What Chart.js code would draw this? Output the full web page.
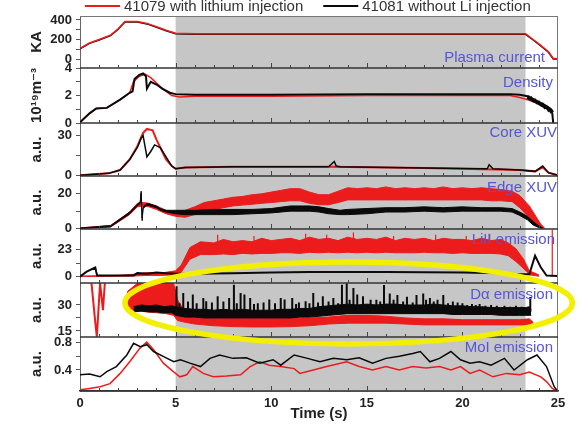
<!DOCTYPE html>
<html>
<head>
<meta charset="utf-8">
<script src="https://cdn.jsdelivr.net/npm/chart.js@4.4.1/dist/chart.umd.min.js"></script>
<style>
  html, body { margin: 0; padding: 0; background: #fff; }
  canvas { display: block; }
</style>
</head>
<body>
<canvas id="shotChart" width="579" height="425"></canvas>
<script>
// ===== values (time in s) =====
const shotNames = ['41079 with lithium injection', '41081 without Li injection'];
const timeTicks = [0, 5, 10, 15, 20, 25];
const shadeWindow = [5, 23.3];

// plasma current (KA)
const ipTime  = [0, 0.5, 1.0, 1.6, 2.0, 2.35, 3.0, 3.5, 4.0, 4.5, 5.0, 6, 10, 15, 20, 23.3, 23.7, 24.1, 24.5, 24.75, 25];
const ip41079 = [110, 165, 200, 245, 310, 385, 385, 365, 330, 295, 265, 260, 260, 260, 260, 258, 200, 140, 75, 5, 5];
const ip41081 = [105, 160, 195, 240, 305, 380, 380, 360, 325, 290, 260, 255, 255, 255, 255, 253, 195, 135, 70, 0, 0];

// density (1e19 m^-3)
const neTime41079 = [0, 0.5, 0.85, 1.4, 2.1, 2.6, 2.8, 3.1, 3.4, 3.7, 4.0, 4.4, 4.8, 5.2, 6, 10, 15, 20, 22.5, 23.0, 23.5, 24.0, 24.4, 24.7];
const ne41079     = [0.05, 0.7, 1.05, 1.1, 1.7, 2.2, 3.0, 3.4, 3.55, 3.3, 2.9, 2.4, 2.0, 1.9, 1.95, 1.95, 2.0, 2.0, 2.0, 1.85, 1.65, 1.4, 1.2, 0.9];
const neTime41081 = [0, 0.5, 0.85, 1.4, 2.1, 2.6, 2.75, 2.85, 3.1, 3.3, 3.45, 3.5, 3.7, 4.0, 4.3, 4.7, 5.0, 6, 10, 15, 20, 22.5, 23.0, 23.4, 23.5, 23.6, 23.7, 23.8, 23.9, 24.0, 24.1, 24.2, 24.3, 24.4, 24.5, 24.6, 24.7, 24.75];
const ne41081     = [0.05, 0.7, 1.05, 1.1, 1.7, 2.2, 2.3, 3.2, 3.5, 3.6, 3.4, 2.5, 3.0, 2.8, 2.5, 2.2, 2.1, 2.05, 2.05, 2.1, 2.1, 2.1, 2.05, 1.95, 1.75, 1.85, 1.6, 1.7, 1.45, 1.55, 1.3, 1.4, 1.1, 1.2, 0.9, 1.0, 0.7, 0];
const neTailTime41081 = [23.4, 23.6, 23.8, 24.0, 24.2, 24.4, 24.6, 24.7];
const neTail41081     = [1.9, 1.75, 1.6, 1.45, 1.3, 1.15, 0.95, 0.75];

// core XUV (a.u.)
const coreTime41079 = [0, 1.5, 2.1, 2.6, 3.0, 3.3, 3.5, 3.8, 4.0, 4.3, 4.5, 4.8, 5.0, 5.5, 8, 13, 18, 23, 23.8, 24.2, 24.5, 25];
const core41079     = [0, 1.5, 4, 12, 22, 32, 35, 34, 27, 18, 12, 7, 5, 6, 6.5, 6.5, 5.5, 4, 3, 6, 2, 0];
const coreTime41081 = [0, 1.5, 2.1, 2.6, 3.0, 3.2, 3.3, 3.5, 3.7, 3.9, 4.2, 4.5, 4.8, 5.0, 5.5, 8, 13, 13.3, 13.4, 13.6, 18, 21.3, 21.4, 21.6, 23, 23.8, 24.2, 24.5, 25];
const core41081     = [0, 1.5, 4, 12, 21, 28, 30, 14, 18, 23, 21, 14, 7, 5, 6, 6.5, 6.5, 10.5, 7, 6.5, 5.5, 5, 8, 5, 4, 3, 7, 2, 0];

// edge XUV (a.u.), noisy traces given as upper / lower envelope
const edgeTime41079 = [0, 1.6, 2.6, 3.0, 3.3, 3.6, 4.0, 4.5, 5.0, 5.5, 6.0, 6.5, 7.0, 7.5, 8.0, 8.5, 9.0, 9.5, 10, 10.5, 11, 11.5, 12, 12.5, 13, 13.5, 14, 14.5, 15, 15.5, 16, 16.5, 17, 17.5, 18, 18.5, 19, 19.5, 20, 20.5, 21, 21.5, 22, 22.6, 23.0, 23.5, 24.1, 24.3];
const edgeHi41079   = [0.3, 1.8, 9.5, 14.5, 15, 14.5, 13, 10.5, 9.5, 10.5, 12.5, 15, 16, 17, 18, 18.5, 19.5, 20, 21, 22, 23, 23, 21, 19.5, 19.5, 21.5, 23.5, 23, 23.5, 23, 24, 23, 23.5, 23, 23.5, 23, 24, 23, 23.5, 23, 23.5, 23, 22.5, 21.5, 19, 13, 2.5, 0.3];
const edgeLo41079   = [0, 0.8, 8, 12.5, 13, 12.5, 11, 8.5, 7, 6.5, 8, 9.5, 11, 12, 13, 13.5, 14, 14.5, 15, 15.5, 16, 16, 14.5, 13.7, 13.7, 15, 16.5, 16.5, 16.5, 16.5, 16.5, 16.5, 16.5, 16.5, 16.5, 16.5, 16.5, 16.5, 16.5, 16.5, 16.5, 16, 16, 15.5, 12, 6, 0.5, 0];
const edgeTime41081 = [0, 1.6, 2.6, 3.0, 3.15, 3.2, 3.25, 3.3, 3.5, 4.0, 4.2, 4.5, 5.0, 5.5, 6, 7, 8, 9, 10, 11, 12, 12.5, 13, 13.6, 14, 15, 16, 17, 18, 19, 20, 21, 22, 22.6, 23.0, 23.4, 23.7, 24, 24.2];
const edgeHi41081   = [0.3, 1.6, 9.5, 14, 15.5, 21.5, 6, 12.5, 14.5, 13, 11.5, 10.5, 10.5, 10.5, 10.5, 11, 11, 11, 11.5, 13, 13, 12.5, 11.5, 10.5, 11, 11.5, 12, 12, 12.5, 12, 12.5, 12, 12, 11.5, 9.5, 7, 4, 1.5, 0.3];
const edgeLo41081   = [0, 1.0, 8.5, 13, 14.5, 20.5, 4.5, 11.5, 13.5, 12, 10.5, 9.5, 8.5, 8, 8, 8, 8, 8.5, 9, 10, 10, 9.5, 8.5, 8, 8, 8.5, 9.5, 9.5, 10, 9.5, 10, 10, 10, 9.5, 7.5, 5, 2, 0.5, 0];

// LiII emission (a.u.)
const liTime41079 = [0, 1, 2, 2.8, 3.5, 4.2, 5.0, 5.3, 5.75, 6.3, 7, 7.5, 8, 8.5, 9, 9.5, 10, 10.5, 11, 11.5, 12, 12.5, 13, 13.5, 14, 14.5, 15, 15.5, 16, 16.5, 17, 17.5, 18, 18.5, 19, 19.5, 20, 20.5, 21, 21.5, 22, 22.4, 22.8, 23.2, 23.5, 24];
const liHi41079   = [0.5, 0.8, 1, 2, 3.5, 3, 5, 10, 25, 30, 29, 32, 30, 31, 30, 33, 31, 32, 33, 31, 34, 32, 33, 31, 34, 32, 33, 32, 34, 31, 33, 32, 33, 31, 33, 32, 32, 31, 33, 31, 32, 29, 24, 15, 5, 1.5];
const liLo41079   = [0, 0.2, 0.3, 0.5, 1, 1, 1.5, 4, 15, 19, 19, 19.5, 19, 20, 19.5, 20, 20, 20.5, 20.5, 20, 21, 20.5, 21, 20.5, 21, 20.5, 21, 20.5, 21, 20.5, 20.5, 20.5, 21, 20.5, 20.5, 20, 20.5, 20, 20, 20, 19.5, 18, 13, 7, 1.5, 0.3];
const liSpikeTime41079 = [7.2, 9.1, 11.8, 12.9, 14.3, 16.4, 18.6, 20.2, 21.4, 24.7];
const liSpikeFoot41079 = [25, 25, 25, 25, 25, 25, 25, 25, 25, 0];
const liSpikeTop41079  = [36, 35, 37, 36, 38, 35, 36, 35, 37, 40.5];
const liTime41081 = [0, 0.35, 0.8, 0.85, 0.9, 2.8, 3.0, 3.5, 4.0, 4.5, 5.0, 6, 8, 10, 12, 16, 20, 22, 23.0, 23.5, 23.8, 24.1, 24.4, 25];
const li41081     = [0, 4.3, 7.8, 4, 0.9, 1, 3, 2.5, 3.5, 3, 2.5, 2.5, 3, 3.5, 4, 4, 3.5, 3, 2, 2, 18, 8, 1, 0.5];

// D-alpha emission (a.u.)
const daEarlyTime41079 = [0.6, 0.8, 0.88, 1.05, 1.2, 1.3];
const daEarly41079     = [42.6, 20, 11.6, 42.6, 27, 42.6];
const daTime41079 = [2.35, 2.5, 3.0, 3.5, 4.0, 4.5, 4.9, 5.1, 5.5, 6, 7, 8, 9, 10, 11, 12, 13, 14, 15, 16, 17, 18, 19, 20, 21, 22, 23, 23.5, 23.7];
const daHi41079   = [30, 38, 42.5, 42.5, 42.5, 42.5, 42.5, 33, 26, 24, 23.5, 23.5, 23, 23, 22.5, 22.5, 23, 24, 24, 23.5, 22.5, 22, 22, 21.5, 21.5, 21.5, 21.5, 22, 20];
const daLo41079   = [28, 27, 26.5, 26, 25.5, 25, 24, 21, 20, 19, 18, 17.5, 17.3, 17.3, 17.5, 18, 19, 19.5, 19.5, 19.5, 19, 18.5, 18.5, 18.5, 18.5, 18.5, 18.5, 18.5, 18];
const daTime41081 = [2.8, 3.2, 3.6, 4.0, 4.4, 4.8, 5.0, 5.5, 6, 6.5, 7, 7.5, 8, 8.5, 9, 9.5, 10, 10.5, 11, 11.5, 12, 12.5, 13, 13.5, 14, 14.5, 15, 15.5, 16, 16.5, 17, 17.5, 18, 18.5, 19, 19.5, 20, 20.5, 21, 21.5, 22, 22.5, 23, 23.3, 23.5, 23.6];
const daHi41081   = [29, 30, 29.5, 30, 29, 29.5, 29, 28, 27.5, 27.5, 27, 27.5, 27, 27.5, 27, 27, 27, 27.5, 27.5, 28, 28, 29, 29.5, 30, 30.5, 30, 30.5, 30, 30.5, 30.5, 30, 30, 30, 30.5, 30, 29.5, 29.5, 29, 29, 28.5, 28.5, 28.5, 28.5, 28.5, 29, 27];
const daLo41081   = [26, 26.5, 26, 26, 25.5, 25.5, 24, 23, 23, 22.5, 22.5, 22.5, 22.5, 22.5, 22.5, 22.5, 22.5, 22.5, 22.5, 23, 23, 23.5, 24, 24.5, 25, 25, 25, 25, 25, 25, 25, 25, 25, 25, 25, 24.5, 24.5, 24.5, 24.5, 24.5, 24, 24, 24, 24, 24, 24];
const daSpikeTime41081 = [5.05, 5.2, 5.4, 5.65, 5.9, 6.1, 6.45, 6.6, 6.9, 7.2, 7.5, 7.8, 8.05, 8.2, 8.4, 8.6, 8.9, 9.1, 9.3, 9.6, 9.9, 10.2, 10.5, 10.7, 11.1, 11.3, 11.45, 11.8, 12.0, 12.2, 12.45, 12.7, 13.0, 13.25, 13.5, 13.7, 13.95, 14.1, 14.3, 14.5, 14.8, 15.2, 15.5, 15.7, 15.9, 16.2, 16.4, 16.6, 16.9, 17.1, 17.4, 17.6, 17.95, 18.1, 18.3, 18.5, 18.7, 19.0, 19.25, 19.5, 19.75, 20.0, 20.25, 20.5, 20.7, 20.9, 21.2, 21.5, 21.8, 22.2, 22.5, 22.8, 23.1, 23.55];
const daSpikeTop41081  = [40.8, 31, 36.9, 32, 36, 31, 34, 32.1, 31.5, 35, 32, 34, 41.7, 31, 36.9, 36, 34, 30.5, 31, 31.5, 33.1, 31, 34, 33.1, 34, 30.5, 31.5, 32.1, 31, 36.9, 31.5, 35, 32, 34, 31, 41.7, 42.6, 33, 39.8, 36, 35, 33, 33, 32, 41.5, 36.7, 33, 35.8, 32, 34.8, 31.5, 35.8, 36.7, 33, 34, 32, 33, 35.8, 31, 32, 31.5, 31, 30, 30.5, 30, 30.5, 29.5, 30, 29.5, 29.5, 29, 29.5, 29, 34.6];
const daSpikeFoot41081 = 26;

// MoI emission (a.u.)
const moTime41079 = [0, 0.5, 1.05, 1.57, 2.1, 2.6, 3.14, 3.49, 3.84, 4.36, 4.88, 5.23, 5.58, 5.9, 6.45, 6.97, 7.67, 8.4, 8.9, 9.4, 9.9, 10.5, 11.2, 11.5, 12.2, 12.9, 13.95, 14.6, 15.3, 16.0, 16.7, 17.4, 18.1, 18.8, 19.4, 19.9, 20.4, 20.9, 21.6, 22.3, 23.0, 23.5, 24.1, 24.4, 24.7, 25];
const mo41079     = [0.11, 0.13, 0.155, 0.2, 0.35, 0.52, 0.72, 0.81, 0.7, 0.5, 0.375, 0.30, 0.33, 0.45, 0.35, 0.30, 0.31, 0.33, 0.45, 0.52, 0.47, 0.45, 0.42, 0.35, 0.40, 0.45, 0.52, 0.45, 0.40, 0.45, 0.40, 0.45, 0.43, 0.45, 0.40, 0.45, 0.35, 0.40, 0.30, 0.35, 0.33, 0.37, 0.30, 0.23, 0.13, 0.08];
const moTime41081 = [0, 0.5, 1.05, 1.4, 1.9, 2.45, 2.8, 3.15, 3.5, 3.85, 4.35, 4.9, 5.25, 5.75, 6.3, 6.8, 7.3, 8.0, 8.7, 9.4, 10.1, 10.5, 11.2, 11.9, 12.55, 13.25, 13.95, 14.6, 15.3, 16.0, 16.7, 17.4, 17.8, 18.3, 18.8, 19.4, 19.9, 20.4, 20.9, 21.5, 22.2, 22.7, 23.4, 23.9, 24.4, 24.8, 25];
const mo41081     = [0.33, 0.34, 0.30, 0.375, 0.45, 0.62, 0.79, 0.74, 0.77, 0.67, 0.6, 0.52, 0.55, 0.5, 0.45, 0.57, 0.62, 0.57, 0.58, 0.5, 0.55, 0.47, 0.62, 0.57, 0.52, 0.57, 0.55, 0.58, 0.5, 0.57, 0.6, 0.64, 0.67, 0.52, 0.57, 0.67, 0.55, 0.5, 0.52, 0.47, 0.57, 0.4, 0.55, 0.62, 0.45, 0.155, 0.08];

// tick labels per panel
const ipTicks = [0, 200, 400];
const neTicks = [0, 2, 4];
const coreTicks = [0, 30];
const edgeTicks = [0, 20];
const liTicks = [0, 23];
const daTicks = [15, 30];
const moTicks = [0.4, 0.8];

// yellow mark around the D-alpha traces: centre (s, a.u.) and radii
const markCentre = [14.05, 31.2];
const markRadius = [11.7, 23.7];

// ===== styling =====
const FONT = "'Liberation Sans', 'DejaVu Sans', Arial, sans-serif";
const RED = '#ec1c1c';
const BLACK = '#0a0a0a';
const BLUE = '#5656d4';
Chart.defaults.font.family = FONT;

const panels = [
  { id: 'yIp',   title: 'KA',      min: -92,   max: 441,   ticks: ipTicks,   weight: 52, label: 'Plasma current', right: 545, dy: 42 },
  { id: 'yNe',   title: '10¹⁹m⁻³', min: 0,     max: 4,     ticks: neTicks,   weight: 55, label: 'Density',        right: 553, dy: 15 },
  { id: 'yCore', title: 'a.u.',    min: -0.5,  max: 39.5,  ticks: coreTicks, weight: 53, label: 'Core XUV',       right: 557, dy: 10 },
  { id: 'yEdge', title: 'a.u.',    min: -0.3,  max: 30.3,  ticks: edgeTicks, weight: 53, label: 'Edge XUV',       right: 557, dy: 12 },
  { id: 'yLi',   title: 'a.u.',    min: -5.5,  max: 41,    ticks: liTicks,   weight: 54, label: 'LiII emission',  right: 555, dy: 11 },
  { id: 'yDa',   title: 'a.u.',    min: 11.5,  max: 42.7,  ticks: daTicks,   weight: 54, label: 'Dα emission',    right: 553, dy: 12 },
  { id: 'yMo',   title: 'a.u.',    min: 0.092, max: 0.883, ticks: moTicks,   weight: 54, label: 'MoI emission',   right: 553, dy: 11 }
];

function series(ts, vs) {
  return ts.map((t, i) => ({ x: t, y: vs[i] }));
}
function spikes(ts, feet, tops) {
  const out = [];
  ts.forEach((t, i) => {
    const foot = Array.isArray(feet) ? feet[i] : feet;
    out.push({ x: t, y: foot }, { x: t, y: tops[i] }, { x: t, y: null });
  });
  return out;
}
function line(label, data, axis, color, width, order) {
  return { label, data, yAxisID: axis, borderColor: color, borderWidth: width, fill: false, order };
}
function band(label, ts, hi, lo, axis, color, order) {
  return [
    { label, data: series(ts, hi), yAxisID: axis, borderColor: color, backgroundColor: color, borderWidth: 1, fill: '+1', order },
    { label, data: series(ts, lo), yAxisID: axis, borderColor: color, borderWidth: 1, fill: false, order }
  ];
}
function withMinor(ticks) {
  const out = [];
  ticks.forEach((v, i) => {
    out.push(v);
    if (i < ticks.length - 1) out.push((v + ticks[i + 1]) / 2);
  });
  return out;
}

const [red, black] = shotNames;
const datasets = [
  line(red, series(ipTime, ip41079), 'yIp', RED, 1.5, 0),
  line(black, series(ipTime, ip41081), 'yIp', BLACK, 1.5, 1),
  line(black, series(neTime41081, ne41081), 'yNe', BLACK, 2, 0),
  line(black, series(neTailTime41081, neTail41081), 'yNe', BLACK, 4, 0),
  line(red, series(neTime41079, ne41079), 'yNe', RED, 1.5, 1),
  line(black, series(coreTime41081, core41081), 'yCore', BLACK, 1.5, 0),
  line(red, series(coreTime41079, core41079), 'yCore', RED, 2, 1),
  ...band(black, edgeTime41081, edgeHi41081, edgeLo41081, 'yEdge', BLACK, 0),
  ...band(red, edgeTime41079, edgeHi41079, edgeLo41079, 'yEdge', RED, 1),
  line(black, series(liTime41081, li41081), 'yLi', BLACK, 2, 0),
  ...band(red, liTime41079, liHi41079, liLo41079, 'yLi', RED, 1),
  line(red, spikes(liSpikeTime41079, liSpikeFoot41079, liSpikeTop41079), 'yLi', RED, 1.2, 1),
  line(black, spikes(daSpikeTime41081, daSpikeFoot41081, daSpikeTop41081), 'yDa', BLACK, 2, 0),
  ...band(black, daTime41081, daHi41081, daLo41081, 'yDa', BLACK, 0),
  ...band(red, daTime41079, daHi41079, daLo41079, 'yDa', RED, 1),
  line(red, series(daEarlyTime41079, daEarly41079), 'yDa', RED, 2, 1),
  line(black, series(moTime41081, mo41081), 'yMo', BLACK, 1.5, 0),
  line(red, series(moTime41079, mo41079), 'yMo', RED, 1.5, 1)
];

const scales = {
  x: {
    type: 'linear', min: 0, max: 25,
    afterBuildTicks: s => { s.ticks = timeTicks.map(v => ({ value: v })); },
    afterFit: s => { s.height = 34; },
    ticks: { font: { size: 13, weight: 'bold' }, color: '#222', padding: 5 },
    grid: { drawOnChartArea: false, drawTicks: false },
    border: { display: true, color: '#333', width: 1.5 },
    title: { display: true, text: 'Time (s)', font: { size: 15, weight: 'bold' }, color: '#222', padding: { top: 0, bottom: 2 } }
  }
};
// left axes in one stack are laid out last-defined on top
panels.slice().reverse().forEach(p => {
  scales[p.id] = {
    type: 'linear', position: 'left', stack: 'shot', stackWeight: p.weight,
    min: p.min, max: p.max,
    afterBuildTicks: s => { s.ticks = withMinor(p.ticks).map(v => ({ value: v })); },
    afterFit: s => { s.width = 80; },
    ticks: {
      autoSkip: false, padding: 4, color: '#222',
      font: { size: 13, weight: 'bold' },
      callback: v => p.ticks.includes(v) ? String(v) : ''
    },
    grid: { drawOnChartArea: false, drawTicks: true, tickLength: 4, color: '#555' },
    border: { display: true, color: '#666', width: 1 },
    title: { display: true, text: p.title, color: '#222', font: { size: 15, weight: 'bold' }, padding: { top: 28, bottom: 0 } }
  };
});

const decorations = {
  id: 'decorations',
  beforeDatasetsDraw(chart) {
    const { ctx, chartArea: a, scales: { x } } = chart;
    const x0 = x.getPixelForValue(shadeWindow[0]);
    const x1 = x.getPixelForValue(shadeWindow[1]);
    ctx.save();
    ctx.fillStyle = '#c6c6c6';
    ctx.fillRect(x0, a.top, x1 - x0, a.bottom - a.top);
    ctx.restore();
  },
  afterDatasetsDraw(chart) {
    const { ctx, chartArea: a, scales: { x } } = chart;
    ctx.save();
    // frame
    ctx.strokeStyle = '#777';
    ctx.lineWidth = 1;
    ctx.beginPath();
    ctx.moveTo(a.left, a.top + 0.5); ctx.lineTo(a.right, a.top + 0.5);
    ctx.moveTo(a.right - 0.5, a.top); ctx.lineTo(a.right - 0.5, a.bottom);
    ctx.stroke();
    // panel separators and small time ticks
    panels.forEach(p => {
      const s = chart.scales[p.id];
      ctx.strokeStyle = '#333';
      ctx.lineWidth = 1.4;
      ctx.beginPath();
      ctx.moveTo(a.left, s.bottom); ctx.lineTo(a.right, s.bottom);
      ctx.stroke();
      ctx.lineWidth = 1;
      ctx.strokeStyle = '#444';
      ctx.beginPath();
      for (let t = x.min + 1; t < x.max; t++) {
        const px = Math.round(x.getPixelForValue(t)) + 0.5;
        const len = t % 5 === 0 ? 5 : 3;
        ctx.moveTo(px, s.bottom); ctx.lineTo(px, s.bottom - len);
      }
      ctx.stroke();
    });
    ctx.restore();
  },
  afterDraw(chart) {
    const { ctx, scales: { x } } = chart;
    ctx.save();
    // panel names
    ctx.font = `15px ${FONT}`;
    ctx.fillStyle = BLUE;
    ctx.textAlign = 'right';
    ctx.textBaseline = 'middle';
    panels.forEach(p => {
      const s = chart.scales[p.id];
      ctx.fillText(p.label, p.right, s.top + p.dy);
    });
    // legend
    ctx.textAlign = 'left';
    ctx.font = `15px ${FONT}`;
    let lx = 85;
    const ly = 6;
    [[shotNames[0], RED], [shotNames[1], BLACK]].forEach(([txt, col]) => {
      ctx.strokeStyle = col;
      ctx.lineWidth = 2;
      ctx.beginPath();
      ctx.moveTo(lx, ly); ctx.lineTo(lx + 35, ly);
      ctx.stroke();
      ctx.fillStyle = '#333';
      ctx.fillText(txt, lx + 39, ly + 1);
      lx += 39 + ctx.measureText(txt).width + 20;
    });
    // yellow mark
    const yDa = chart.scales.yDa;
    const cx = x.getPixelForValue(markCentre[0]);
    const cy = yDa.getPixelForValue(markCentre[1]);
    const rx = x.getPixelForValue(markCentre[0] + markRadius[0]) - cx;
    const ry = cy - yDa.getPixelForValue(markCentre[1] + markRadius[1]);
    ctx.strokeStyle = '#f2f000';
    ctx.lineWidth = 5.5;
    ctx.beginPath();
    ctx.ellipse(cx, cy, rx, ry, 0, 0, Math.PI * 2);
    ctx.stroke();
    ctx.restore();
  }
};

new Chart(document.getElementById('shotChart'), {
  type: 'line',
  data: { datasets },
  options: {
    responsive: false,
    animation: false,
    layout: { padding: { top: 16, right: 21, bottom: 0, left: 0 } },
    elements: { point: { radius: 0 }, line: { tension: 0 } },
    plugins: { legend: { display: false }, tooltip: { enabled: false } },
    scales
  },
  plugins: [decorations]
});
</script>
</body>
</html>
